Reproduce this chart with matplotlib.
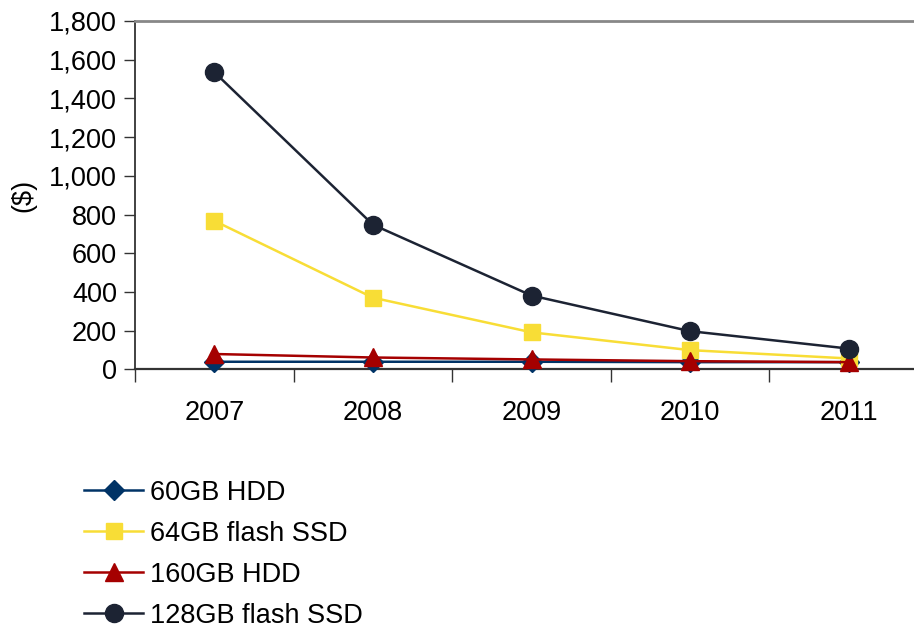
import matplotlib.pyplot as plt
from matplotlib.ticker import FuncFormatter

plt.rcParams['font.family'] = ['Liberation Sans', 'DejaVu Sans']

years = ['2007', '2008', '2009', '2010', '2011']
hdd_60 = [40, 40, 40, 38, 38]
ssd_64 = [768, 371, 192, 100, 57]
hdd_160 = [80, 62, 52, 43, 38]
ssd_128 = [1536, 748, 382, 198, 108]

series = [
    ('60GB HDD', hdd_60, '#003366', 'D', 10),
    ('64GB flash SSD', ssd_64, '#F8DD36', 's', 12),
    ('160GB HDD', hdd_160, '#A50000', '^', 13),
    ('128GB flash SSD', ssd_128, '#1C2333', 'o', 13),
]

fs = 19.5

fig = plt.figure(figsize=(9.14, 6.28), dpi=100)
# plot area runs a little past the right edge of the figure
ax = fig.add_axes([135 / 914, 1 - 369.5 / 628, 793 / 914, 348.5 / 628])

x = range(len(years))
handles = []
for name, vals, color, marker, ms in series:
    h, = ax.plot(x, vals, color=color, marker=marker, markersize=ms,
                 linewidth=1.8, label=name, clip_on=False, zorder=3)
    handles.append(h)

ax.set_xlim(-0.5, len(years) - 0.5)
ax.set_ylim(0, 1800)
ax.set_yticks(range(0, 1801, 200))
ax.yaxis.set_major_formatter(FuncFormatter(lambda v, p: f'{int(v):,}'))
ax.set_xticks([i + 0.5 for i in range(-1, len(years))], minor=False)
ax.set_xticklabels([])
ax.set_xticks(list(x), minor=True)
ax.set_xticklabels(years, minor=True)
ax.tick_params(axis='x', which='minor', length=0, pad=22, labelsize=fs)
ax.tick_params(axis='x', which='major', length=9, width=1, direction='out', color='#333333')
ax.tick_params(axis='y', length=8, width=1, direction='out', labelsize=fs, pad=5, color='#333333')

ax.spines['top'].set_color('#888888')
ax.spines['top'].set_linewidth(2)
ax.spines['right'].set_visible(False)
ax.spines['left'].set_color('#333333')
ax.spines['left'].set_linewidth(1.3)
ax.spines['bottom'].set_color('#333333')
ax.spines['bottom'].set_linewidth(1.6)

ax.set_ylabel('($)', fontsize=fs, labelpad=9)

fig.legend(handles=handles, loc='upper left', bbox_to_anchor=(73 / 914, 1 - 469 / 628),
           frameon=False, fontsize=fs, handlelength=2.2, handletextpad=0.25,
           labelspacing=0.55, borderaxespad=0)

fig.savefig('out.png', dpi=100)
